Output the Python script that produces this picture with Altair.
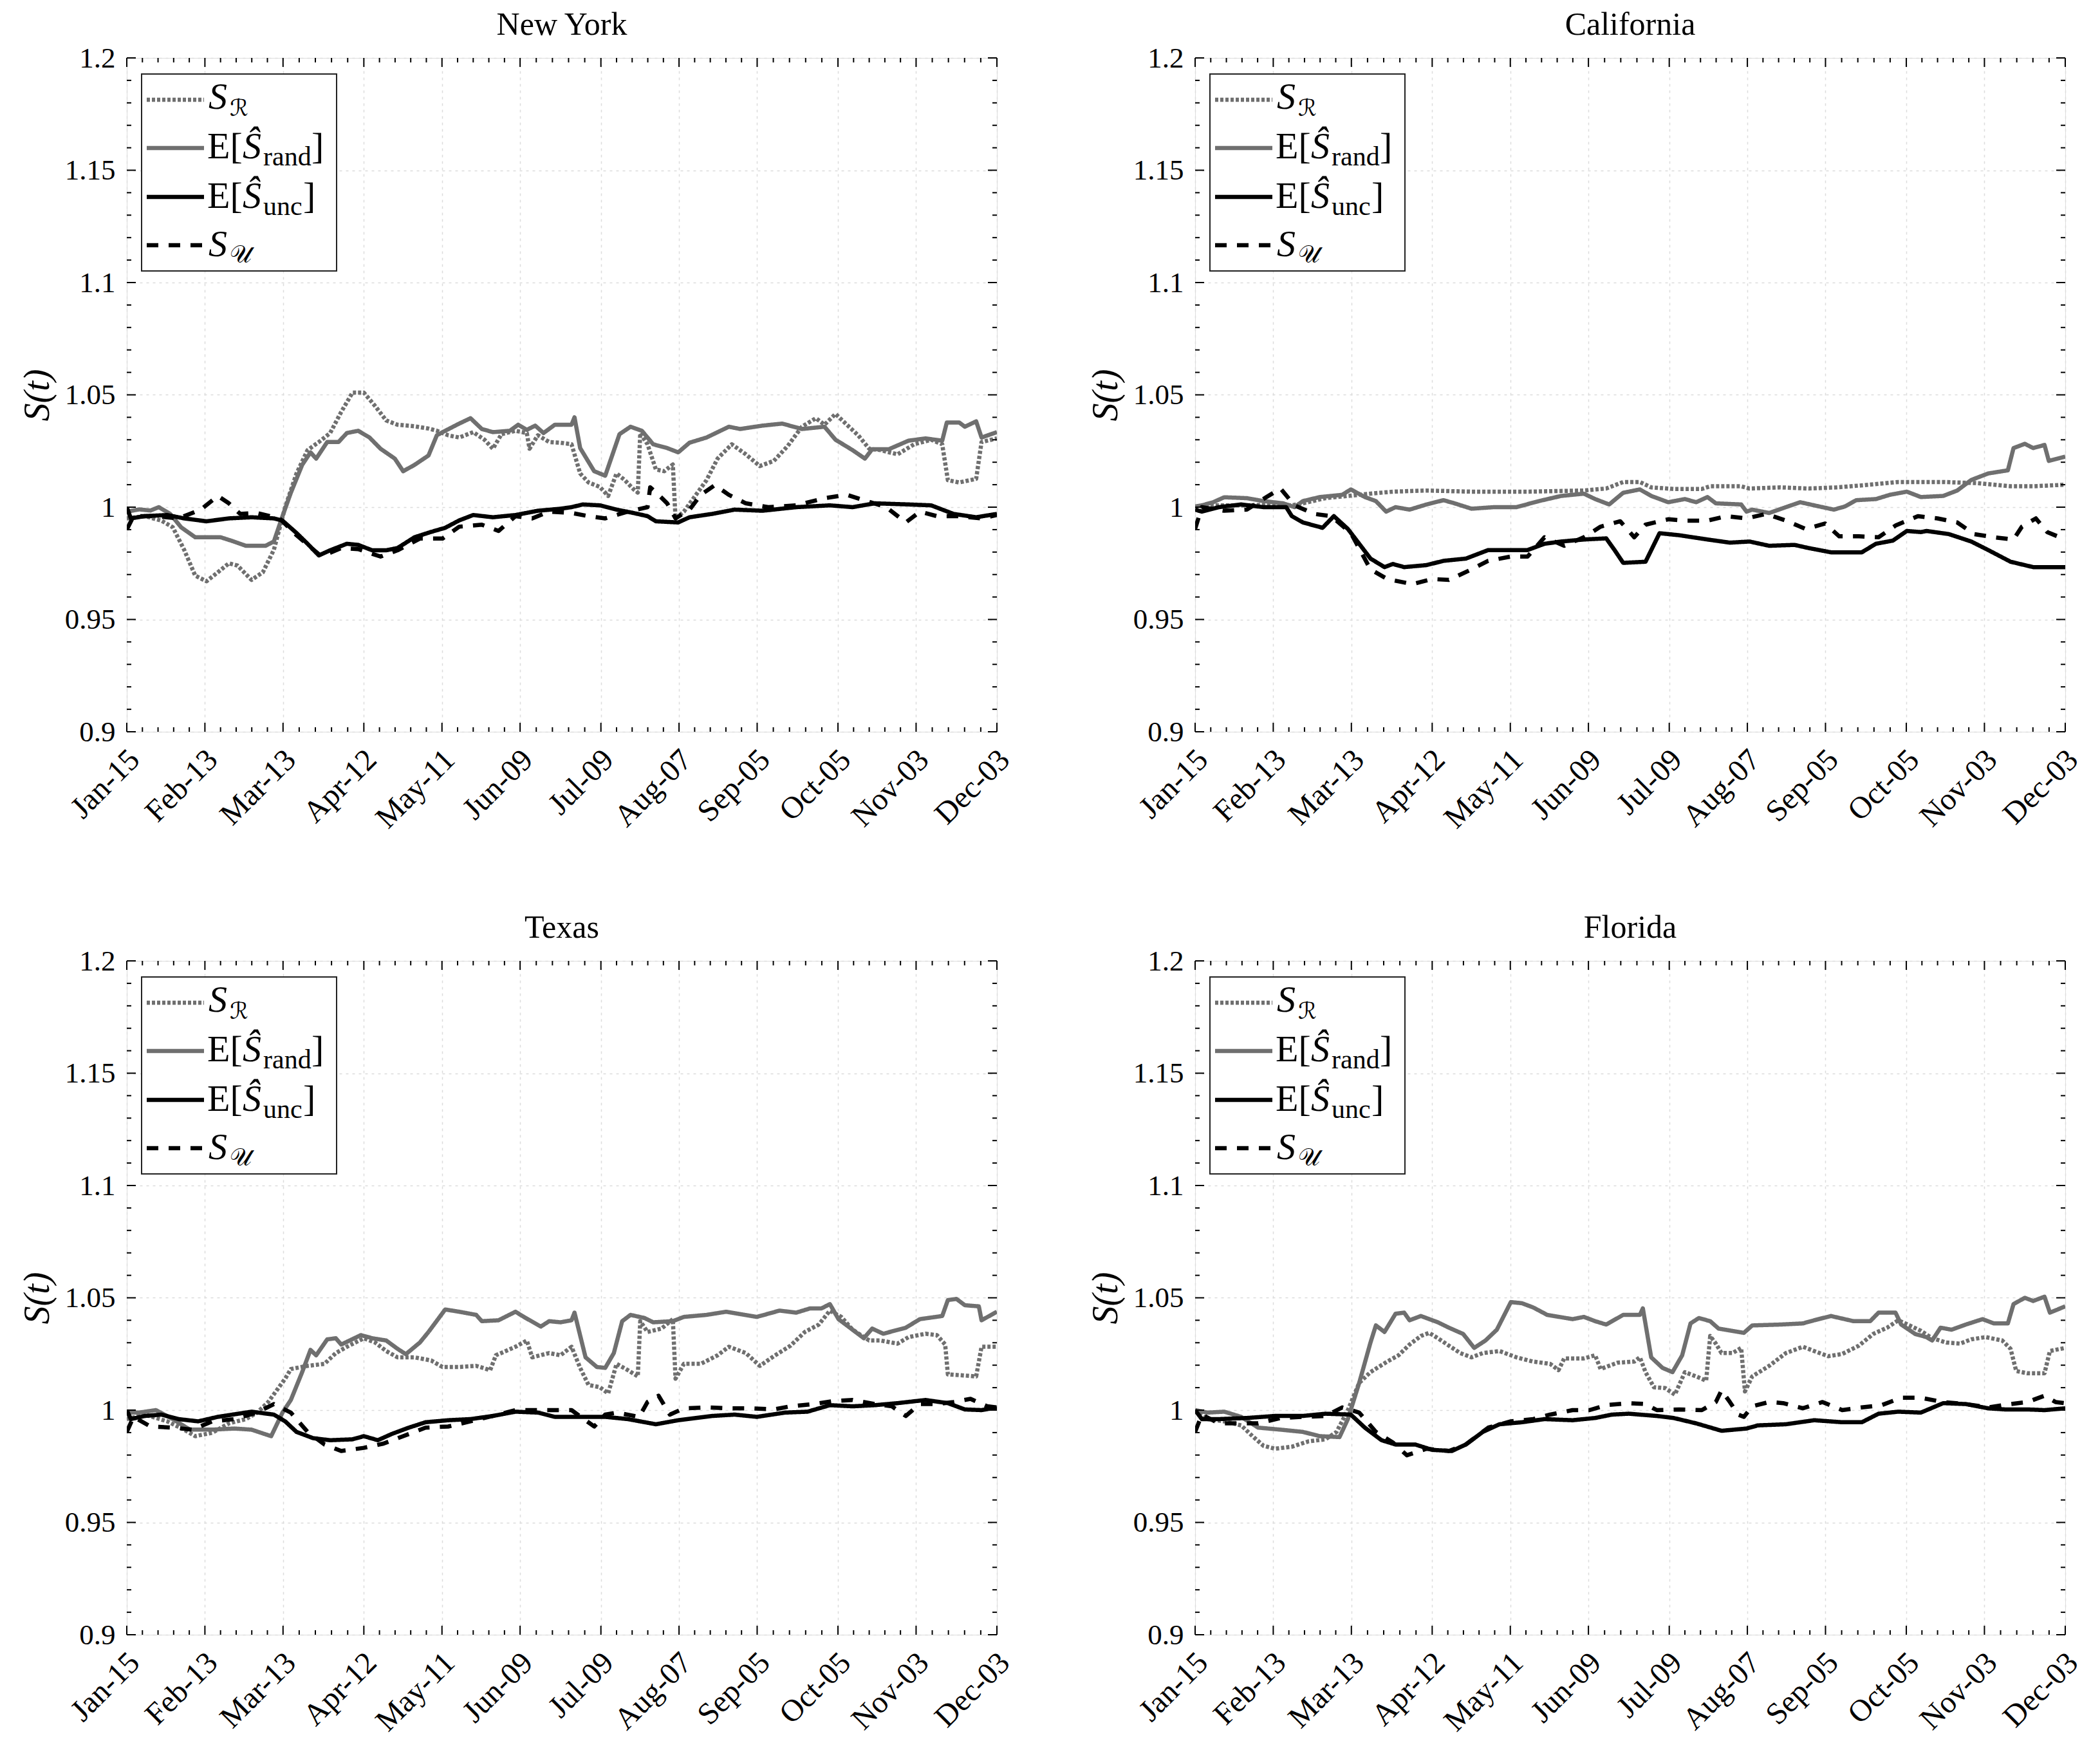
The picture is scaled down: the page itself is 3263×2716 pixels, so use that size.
import json
import altair as alt
import pandas as pd

alt.data_transformers.disable_max_rows()

FONT = "Liberation Serif"
W, H = 1352, 1047
GRAY = "#6f6f6f"

# ---------------- axis ticks ----------------
TICK_LABELS = ["Jan-15", "Feb-13", "Mar-13", "Apr-12", "May-11", "Jun-09",
               "Jul-09", "Aug-07", "Sep-05", "Oct-05", "Nov-03", "Dec-03"]
TICK_DAYS = [0, 29, 58, 88, 117, 146, 176, 205, 234, 264, 293, 323]
Y_TICKS = [0.9, 0.95, 1.0, 1.05, 1.1, 1.15, 1.2]
X_DOMAIN = [0, 323]
Y_DOMAIN = [0.9, 1.2]

SERIES = ["S_R", "E_rand", "E_unc", "S_U"]
COLORS = [GRAY, GRAY, "#000000", "#000000"]
DASHES = [[5, 3], [1, 0], [1, 0], [18, 16]]

# ---------------- data: (day since Jan-15, value) ----------------
NY_SR = [(0,0.995),(6.7,0.996),(12.9,0.994),(17.1,0.991),(21.3,0.981),(25.4,0.9695),(29.6,0.967),(33.8,0.971),(37.9,0.975),(41.1,0.974),(46.3,0.9676),(50.5,0.971),(54.6,0.981),(58.8,1.0),(63.0,1.015),(67.1,1.0254),(71.3,1.029),(75.5,1.033),(79.6,1.0424),(83.8,1.051),(88.0,1.051),(92.2,1.045),(96.3,1.0386),(100.5,1.0367),(106.8,1.036),(112.0,1.035),(115.1,1.034),(119.3,1.032),(123.4,1.031),(128.6,1.0334),(132.8,1.030),(135.9,1.026),(139.1,1.0325),(144.3,1.034),(148.5,1.033),(149.5,1.026),(152.6,1.032),(156.8,1.029),(161.0,1.0287),(165.1,1.028),(168.3,1.015),(171.4,1.011),(175.6,1.009),(178.7,1.005),(181.8,1.015),(184.9,1.012),(188.1,1.008),(189.7,1.0065),(190.6,1.033),(193.3,1.028),(196.4,1.0168),(199.5,1.016),(202.7,1.019),(203.7,0.995),(206.8,0.998),(211.0,1.005),(215.2,1.012),(219.3,1.0216),(224.6,1.028),(229.8,1.0235),(235.0,1.0183),(240.2,1.0206),(245.4,1.0273),(250.6,1.0358),(255.8,1.0396),(259.0,1.0367),(263.1,1.0415),(267.3,1.0367),(271.5,1.032),(275.6,1.026),(279.8,1.0254),(286.1,1.0235),(292.3,1.028),(298.6,1.030),(302.7,1.028),(304.8,1.012),(309.0,1.011),(315.3,1.0126),(317.3,1.029),(323.0,1.0306)]
NY_ERAND = [(0,0.998),(4.6,0.999),(8.8,0.9985),(11.9,1.0),(16.1,0.997),(20.2,0.991),(25.4,0.9866),(34.8,0.9866),(39.0,0.985),(44.2,0.9828),(51.5,0.9828),(54.6,0.9847),(57.8,0.996),(60.9,1.0064),(65.1,1.0188),(68.2,1.0244),(70.3,1.0216),(74.4,1.029),(78.6,1.029),(81.7,1.033),(85.9,1.034),(90.1,1.031),(94.2,1.026),(99.5,1.0216),(102.6,1.016),(106.8,1.0188),(112.0,1.023),(115.1,1.032),(118.2,1.034),(123.4,1.0372),(127.6,1.0396),(131.8,1.0348),(135.9,1.0334),(142.2,1.034),(145.3,1.0367),(148.5,1.0344),(151.6,1.0363),(154.7,1.033),(158.9,1.0367),(165.1,1.0367),(166.2,1.040),(168.3,1.0263),(173.5,1.016),(177.6,1.014),(182.9,1.0325),(187.0,1.0358),(191.2,1.034),(195.4,1.028),(200.6,1.0263),(204.7,1.0244),(208.9,1.0287),(215.2,1.031),(223.5,1.0358),(227.7,1.0348),(236.0,1.0363),(243.3,1.0372),(250.6,1.0348),(259.0,1.0358),(263.1,1.030),(269.4,1.0254),(274.0,1.0216),(276.7,1.0258),(282.9,1.0258),(290.2,1.0296),(296.5,1.0306),(302.7,1.0296),(304.4,1.0377),(309.0,1.0377),(311.1,1.0358),(315.3,1.0382),(317.3,1.031),(323.0,1.0334)]
NY_EUNC = [(0,1.0),(1.5,0.995),(6.7,0.996),(15.0,0.9965),(21.3,0.995),(29.6,0.9937),(37.9,0.995),(46.3,0.9955),(54.6,0.995),(57.8,0.994),(63.0,0.9885),(67.1,0.9837),(71.3,0.9785),(75.5,0.9808),(81.7,0.9837),(85.9,0.9832),(91.1,0.9808),(96.3,0.9808),(100.5,0.9818),(106.8,0.9866),(113.0,0.989),(118.2,0.9908),(123.4,0.9941),(128.6,0.9965),(135.9,0.9955),(144.3,0.9965),(152.6,0.9984),(161.0,0.9993),(165.1,1.0),(169.3,1.0012),(175.6,1.0008),(181.8,0.9989),(188.1,0.9974),(193.3,0.996),(196.4,0.9937),(204.7,0.9932),(208.9,0.9955),(217.3,0.997),(225.6,0.9989),(236.0,0.9984),(248.5,1.0),(261.0,1.0008),(269.4,1.0),(277.7,1.0017),(290.2,1.0012),(298.6,1.0008),(306.9,0.997),(315.3,0.9955),(323.0,0.997)]
NY_SU = [(0,0.990),(2.5,0.996),(10.8,0.996),(19.2,0.995),(27.5,0.9989),(33.8,1.005),(37.9,1.0017),(42.1,0.997),(48.4,0.9974),(56.7,0.995),(63.0,0.9875),(72.3,0.978),(79.6,0.9818),(85.9,0.9813),(94.2,0.978),(100.5,0.9808),(108.8,0.986),(117.2,0.986),(123.4,0.9913),(131.8,0.9922),(138.0,0.9894),(144.3,0.996),(150.5,0.995),(156.8,0.998),(165.1,0.9974),(171.4,0.996),(177.6,0.995),(186.0,0.998),(193.3,1.0),(194.3,1.0088),(197.4,1.0055),(200.6,1.0017),(203.7,0.995),(208.9,0.9989),(213.1,1.0055),(218.3,1.0098),(223.5,1.0055),(229.8,1.0017),(238.1,1.0),(248.5,1.0008),(259.0,1.004),(267.3,1.0055),(273.6,1.0031),(281.9,1.0),(289.2,0.9932),(294.4,0.998),(300.7,0.996),(309.0,0.996),(317.3,0.995),(323.0,0.9965)]

CA_SR = [(0,1.0),(6.7,1.0008),(19.2,1.0008),(29.6,1.0012),(35.9,1.0008),(40.0,1.0017),(48.4,1.004),(56.7,1.005),(65.1,1.006),(73.4,1.0069),(85.9,1.0074),(102.6,1.0069),(123.4,1.0069),(144.3,1.0074),(152.6,1.0083),(158.9,1.0112),(165.1,1.0112),(169.3,1.0088),(177.6,1.0081),(188.1,1.0081),(191.2,1.0093),(202.7,1.0093),(205.8,1.0083),(217.3,1.0088),(227.7,1.0083),(238.1,1.0088),(248.5,1.0098),(261.0,1.0112),(277.7,1.0112),(290.2,1.0107),(302.7,1.0093),(311.1,1.0093),(323.0,1.01)]
CA_ERAND = [(0,1.0003),(2.5,1.0008),(6.7,1.0022),(10.8,1.0044),(19.2,1.004),(25.4,1.0027),(32.7,1.0017),(36.9,1.0),(40.0,1.0027),(46.3,1.0045),(54.6,1.0055),(57.8,1.0079),(63.0,1.0045),(67.1,1.0027),(70.9,0.998),(74.4,1.0),(79.6,0.9989),(85.9,1.0012),(92.2,1.0031),(96.3,1.0017),(102.6,0.9993),(110.9,1.0),(119.3,1.0),(127.6,1.0027),(135.9,1.005),(144.3,1.006),(148.5,1.0036),(153.7,1.0012),(158.9,1.0064),(165.1,1.0079),(169.3,1.005),(175.6,1.0022),(181.8,1.0036),(186.0,1.0022),(190.2,1.0045),(193.3,1.0017),(202.7,1.0012),(204.7,0.998),(206.8,0.9989),(213.1,0.9974),(219.3,1.0),(224.6,1.0022),(229.8,1.0008),(237.1,0.9989),(241.2,1.0003),(245.4,1.0031),(252.7,1.0036),(257.9,1.0055),(264.2,1.0069),(269.4,1.0045),(277.7,1.005),(282.9,1.0074),(288.1,1.0121),(294.4,1.015),(301.7,1.0164),(303.8,1.0263),(308.0,1.0282),(311.1,1.0263),(315.3,1.0277),(316.9,1.0206),(323.0,1.0225)]
CA_EUNC = [(0,0.9989),(2.5,0.998),(8.8,1.0),(17.1,1.0012),(25.4,1.0),(33.8,1.0),(35.9,0.996),(40.0,0.9932),(47.3,0.9908),(51.5,0.996),(56.7,0.9903),(60.9,0.9837),(65.1,0.9771),(70.3,0.9733),(73.4,0.9747),(77.6,0.9733),(85.9,0.9742),(92.2,0.9761),(100.5,0.9771),(108.8,0.9809),(117.2,0.9809),(123.4,0.9809),(129.7,0.9837),(135.9,0.9847),(144.3,0.9856),(152.6,0.9861),(155.7,0.9809),(158.9,0.9752),(167.2,0.9757),(172.4,0.9884),(179.7,0.9875),(190.2,0.9856),(198.5,0.9842),(205.8,0.9847),(213.1,0.9828),(222.5,0.9832),(227.7,0.9818),(236.0,0.9799),(247.5,0.9799),(252.7,0.9837),(259.0,0.9851),(264.2,0.9894),(269.4,0.9889),(271.5,0.9894),(279.8,0.988),(288.1,0.9847),(294.4,0.9809),(302.7,0.9757),(311.1,0.9733),(323.0,0.9733)]
CA_SU = [(0,0.9903),(2.5,1.0),(10.8,0.9984),(19.2,0.9989),(26.5,1.0045),(31.7,1.0083),(36.9,1.0008),(44.2,0.997),(50.5,0.996),(57.8,0.9885),(65.1,0.9723),(71.3,0.968),(80.7,0.9657),(88.0,0.968),(94.2,0.9676),(102.6,0.9723),(108.8,0.9761),(117.2,0.978),(123.4,0.978),(129.7,0.9866),(137.0,0.9828),(144.3,0.9866),(150.5,0.9913),(157.8,0.9937),(163.0,0.9866),(167.2,0.9922),(175.6,0.9946),(181.8,0.994),(190.2,0.994),(197.4,0.996),(204.7,0.995),(212.0,0.997),(219.3,0.994),(226.6,0.9903),(233.9,0.9927),(239.1,0.987),(246.4,0.987),(253.7,0.9866),(260.0,0.9918),(268.3,0.996),(275.6,0.995),(282.9,0.9932),(289.2,0.988),(296.5,0.9866),(303.8,0.9856),(306.9,0.9913),(312.1,0.995),(316.3,0.9889),(323.0,0.9856)]

TX_SR = [(0,0.996),(6.7,0.998),(15.0,0.995),(21.3,0.9913),(25.4,0.9884),(31.7,0.9899),(37.9,0.9941),(44.2,0.996),(48.4,0.9989),(52.5,1.0036),(58.8,1.014),(60.9,1.0183),(67.1,1.0197),(73.4,1.0206),(77.6,1.0254),(81.7,1.0282),(88.0,1.032),(92.2,1.0301),(96.3,1.0263),(100.5,1.0235),(106.8,1.0235),(113.0,1.0221),(117.2,1.0192),(123.4,1.0192),(129.7,1.0197),(134.9,1.0178),(137.0,1.0244),(144.3,1.0282),(148.5,1.031),(150.5,1.0235),(156.8,1.0254),(161.0,1.0244),(165.1,1.0282),(168.3,1.0188),(171.4,1.0112),(175.6,1.0102),(178.7,1.0074),(181.8,1.0206),(186.0,1.0178),(189.7,1.015),(190.6,1.0396),(193.3,1.0348),(198.5,1.0363),(202.7,1.0405),(203.7,1.014),(206.8,1.0206),(213.1,1.0206),(219.3,1.0244),(223.5,1.0282),(229.8,1.0254),(235.0,1.0197),(240.2,1.024),(246.4,1.0287),(251.7,1.0348),(256.9,1.0381),(261.0,1.0443),(265.2,1.0415),(269.4,1.0358),(275.6,1.031),(279.8,1.031),(286.1,1.0296),(290.2,1.0325),(296.5,1.034),(300.7,1.0334),(303.8,1.0292),(304.8,1.0159),(311.1,1.0154),(315.3,1.015),(317.3,1.0282),(323.0,1.0282)]
TX_ERAND = [(0,0.9989),(4.6,0.9989),(10.8,1.0),(17.1,0.996),(23.4,0.9913),(31.7,0.9913),(40.0,0.9918),(46.3,0.9913),(53.6,0.9884),(57.8,0.9989),(60.9,1.0045),(65.1,1.0169),(68.2,1.0268),(70.3,1.0244),(74.4,1.0315),(77.6,1.032),(79.6,1.0292),(86.9,1.0334),(91.1,1.032),(96.3,1.031),(100.5,1.0273),(103.6,1.0249),(108.8,1.0301),(112.0,1.0348),(118.2,1.0448),(123.4,1.0438),(129.7,1.0424),(131.8,1.0396),(138.0,1.04),(144.3,1.0438),(147.4,1.0415),(153.7,1.0372),(156.8,1.0396),(161.0,1.0391),(165.1,1.04),(166.2,1.0434),(170.3,1.0235),(174.5,1.0192),(177.6,1.0188),(180.8,1.0254),(183.9,1.0396),(187.0,1.0424),(192.2,1.041),(195.4,1.0391),(202.7,1.0396),(206.8,1.0415),(215.2,1.0424),(222.5,1.0438),(233.9,1.0415),(242.3,1.0443),(248.5,1.0434),(253.7,1.0453),(257.9,1.0453),(261.0,1.0472),(264.2,1.0405),(269.4,1.0358),(273.6,1.032),(276.7,1.0363),(280.8,1.034),(289.2,1.0367),(294.4,1.0405),(302.7,1.0419),(304.8,1.049),(308.0,1.0495),(311.1,1.0467),(316.3,1.0462),(317.3,1.04),(323.0,1.0438)]
TX_EUNC = [(0,1.0),(1.5,0.996),(6.7,0.9974),(12.9,0.998),(19.2,0.996),(26.5,0.995),(33.8,0.997),(46.3,0.9993),(54.6,0.998),(58.8,0.995),(63.0,0.9903),(69.2,0.9875),(75.5,0.9866),(83.8,0.987),(88.0,0.9884),(93.2,0.9866),(98.4,0.9894),(104.7,0.9922),(110.9,0.9946),(119.3,0.9955),(127.6,0.996),(135.9,0.9974),(144.3,0.9993),(152.6,0.9989),(158.9,0.997),(169.3,0.997),(177.6,0.997),(186.0,0.996),(196.4,0.9937),(204.7,0.9955),(217.3,0.9974),(225.6,0.998),(233.9,0.997),(244.4,0.9989),(252.7,0.9993),(261.0,1.0022),(269.4,1.0017),(277.7,1.0022),(286.1,1.0031),(296.5,1.0045),(304.8,1.0031),(311.1,1.0003),(317.3,1.0),(323.0,1.0012)]
TX_SU = [(0,0.9903),(2.5,0.997),(8.8,0.9927),(17.1,0.9922),(24.4,0.9913),(31.7,0.995),(40.0,0.996),(48.4,0.9989),(54.6,1.0027),(60.9,0.9989),(67.1,0.9903),(73.4,0.9847),(79.6,0.9818),(88.0,0.9832),(95.3,0.9851),(102.6,0.9884),(110.9,0.9922),(119.3,0.9927),(127.6,0.995),(135.9,0.9974),(144.3,1.0),(156.8,1.0),(165.1,1.0),(173.5,0.9927),(177.6,0.998),(181.8,0.9989),(190.2,0.997),(193.3,1.0036),(197.4,1.0064),(201.6,0.998),(206.8,1.0008),(215.2,1.0012),(223.5,1.0008),(231.9,1.0008),(240.2,1.0003),(246.4,1.0017),(254.8,1.0027),(262.1,1.004),(269.4,1.0045),(277.7,1.0027),(284.0,1.0017),(289.2,0.9974),(294.4,1.0027),(300.7,1.0027),(306.9,1.0036),(313.2,1.005),(319.4,1.0017),(323.0,1.0012)]

FL_SR = [(0,1.0),(4.6,0.996),(10.8,0.995),(17.1,0.9932),(21.3,0.9884),(25.4,0.9841),(29.6,0.9828),(35.9,0.9837),(42.1,0.9861),(48.4,0.987),(52.5,0.9903),(56.7,1.0),(60.9,1.0121),(65.1,1.0169),(71.3,1.0216),(75.5,1.0244),(79.6,1.0292),(83.8,1.033),(86.9,1.0344),(90.1,1.032),(94.2,1.0287),(98.4,1.0254),(102.6,1.0235),(106.8,1.0254),(113.0,1.0263),(119.3,1.0235),(125.5,1.0216),(131.8,1.0206),(134.9,1.0178),(137.0,1.023),(144.3,1.023),(148.5,1.0244),(150.5,1.0183),(156.8,1.0211),(163.0,1.0216),(165.1,1.0235),(167.2,1.0169),(170.3,1.0102),(174.5,1.0098),(178.1,1.0069),(181.8,1.0169),(186.0,1.015),(189.7,1.0131),(191.2,1.033),(193.3,1.0296),(195.4,1.0254),(199.5,1.0254),(202.7,1.0277),(204.1,1.0083),(206.8,1.015),(213.1,1.0197),(219.3,1.0254),(225.6,1.0282),(229.8,1.0263),(235.0,1.024),(240.2,1.025),(246.4,1.0287),(251.7,1.0339),(256.9,1.0367),(261.0,1.04),(265.2,1.0377),(269.4,1.0353),(273.6,1.032),(278.8,1.0301),(284.0,1.0296),(288.1,1.0315),(293.4,1.0325),(299.6,1.031),(302.7,1.0273),(304.8,1.0174),(309.0,1.0164),(315.3,1.0164),(317.3,1.0263),(323.0,1.0277)]
FL_ERAND = [(0,1.0),(4.6,0.9989),(10.8,0.9993),(17.1,0.997),(23.4,0.9922),(31.7,0.9913),(40.0,0.9903),(46.3,0.9884),(53.6,0.988),(56.7,0.996),(60.9,1.0121),(65.1,1.0301),(67.1,1.0377),(70.3,1.0348),(74.4,1.0429),(77.6,1.0434),(79.6,1.04),(83.8,1.0419),(90.1,1.0391),(94.2,1.0367),(99.5,1.0339),(103.6,1.0277),(107.8,1.031),(112.0,1.0358),(117.2,1.0481),(121.3,1.0476),(125.5,1.0457),(130.7,1.0424),(140.1,1.0405),(144.3,1.0415),(148.5,1.0396),(152.6,1.0381),(158.9,1.0424),(165.1,1.0424),(166.2,1.0453),(169.3,1.0235),(173.5,1.0188),(177.2,1.0169),(180.8,1.0244),(183.9,1.0386),(187.0,1.041),(191.2,1.0396),(194.3,1.0363),(203.7,1.0344),(206.8,1.0377),(217.3,1.0381),(225.6,1.0386),(229.8,1.04),(236.0,1.0419),(244.4,1.0396),(250.6,1.0396),(253.7,1.0434),(260.0,1.0434),(262.1,1.0381),(267.3,1.0339),(271.5,1.0325),(273.6,1.031),(276.7,1.0367),(280.8,1.0358),(286.1,1.0381),(292.3,1.0405),(296.5,1.0386),(301.7,1.0386),(303.8,1.0472),(308.0,1.05),(311.1,1.0486),(315.3,1.0505),(317.3,1.0434),(323.0,1.0462)]
FL_EUNC = [(0,1.0),(2.5,0.996),(8.8,0.996),(19.2,0.9965),(29.6,0.9974),(40.0,0.9974),(48.4,0.9984),(57.8,0.998),(63.0,0.9922),(69.2,0.9866),(74.4,0.9847),(81.7,0.9847),(88.0,0.9823),(95.3,0.9818),(100.5,0.9847),(106.8,0.9903),(113.0,0.9937),(121.3,0.9946),(129.7,0.996),(140.1,0.9955),(148.5,0.9965),(154.7,0.998),(161.0,0.9984),(171.4,0.9974),(177.6,0.9965),(186.0,0.9941),(195.4,0.9908),(204.7,0.9918),(208.9,0.9932),(219.3,0.9937),(229.8,0.9955),(240.2,0.9946),(247.5,0.9946),(253.7,0.9984),(261.0,0.9993),(269.4,0.9989),(277.7,1.0031),(286.1,1.0027),(294.4,1.0008),(300.7,1.0003),(309.0,1.0003),(315.3,1.0),(323.0,1.0008)]
FL_SU = [(0,0.9903),(2.5,0.998),(8.8,0.9941),(15.0,0.9941),(23.4,0.9941),(31.7,0.9965),(40.0,0.997),(48.4,0.9974),(54.6,1.0012),(60.9,0.9989),(67.1,0.9903),(73.4,0.9856),(78.6,0.9799),(85.9,0.9828),(94.2,0.9818),(100.5,0.9847),(108.8,0.9922),(117.2,0.995),(125.5,0.996),(131.8,0.998),(140.1,1.0),(146.4,1.0),(152.6,1.0022),(161.0,1.0031),(167.2,1.0027),(171.4,1.0),(179.7,1.0003),(188.1,1.0),(193.3,1.0036),(195.4,1.0088),(198.5,1.0036),(201.6,0.998),(203.7,0.997),(206.8,1.0017),(213.1,1.0036),(218.3,1.0031),(225.6,1.0008),(232.9,1.0036),(240.2,1.0),(247.5,1.0012),(254.8,1.0022),(262.1,1.0055),(269.4,1.0055),(277.7,1.0036),(286.1,1.0027),(294.4,1.0012),(302.7,1.0027),(309.0,1.0036),(315.3,1.0064),(319.4,1.0036),(323.0,1.0031)]

PANELS = [
    ("New York", {"S_R": NY_SR, "E_rand": NY_ERAND, "E_unc": NY_EUNC, "S_U": NY_SU}),
    ("California", {"S_R": CA_SR, "E_rand": CA_ERAND, "E_unc": CA_EUNC, "S_U": CA_SU}),
    ("Texas", {"S_R": TX_SR, "E_rand": TX_ERAND, "E_unc": TX_EUNC, "S_U": TX_SU}),
    ("Florida", {"S_R": FL_SR, "E_rand": FL_ERAND, "E_unc": FL_EUNC, "S_U": FL_SU}),
]

# minor tick positions (axis decoration only)
Y_MINOR = [round(0.9 + 0.01 * i, 2) for i in range(31) if i % 5]
X_MINOR = []
for a, b in zip(TICK_DAYS[:-1], TICK_DAYS[1:]):
    X_MINOR += [a + (b - a) * k / 5 for k in range(1, 5)]

ONE = pd.DataFrame({"k": [0]})

label_expr = "%s[indexof(%s, datum.value)]" % (json.dumps(TICK_LABELS), json.dumps(TICK_DAYS))

GRID = dict(grid=True, gridColor="#dcdcdc", gridDash=[4, 6], gridWidth=1.5)
XAXIS = alt.Axis(values=TICK_DAYS, labelExpr=label_expr, labelAngle=-45, labelAlign="right",
                 labelBaseline="middle", labelFont=FONT, labelFontSize=48, labelColor="black",
                 labelPadding=36, labelOffset=12, labelOverlap=False, labelFlush=False, ticks=False,
                 domain=False, title=None, **GRID)
YAXIS = alt.Axis(values=Y_TICKS, format=".3~g", labelFont=FONT, labelFontSize=45, labelColor="black",
                 labelPadding=18, ticks=False, domain=False, title="S(t)", titleFont=FONT,
                 titleFontSize=56, titleFontStyle="italic", titleFontWeight="normal",
                 titleColor="black", titlePadding=13, **GRID)

MAJ, MIN = 14, 7
LW = 6.5


def make_panel(name, series):
    xs = alt.Scale(domain=X_DOMAIN, nice=False, zero=False)
    ys = alt.Scale(domain=Y_DOMAIN, nice=False, zero=False)
    rows = []
    for s in SERIES:
        for d, v in series[s]:
            rows.append({"day": d, "val": v, "series": s})
    df = pd.DataFrame(rows)
    layers = []
    layers.append(
        alt.Chart(df).mark_line(strokeWidth=LW, clip=True, strokeJoin="round").encode(
            x=alt.X("day:Q", scale=xs, axis=XAXIS),
            y=alt.Y("val:Q", scale=ys, axis=YAXIS),
            color=alt.Color("series:N", scale=alt.Scale(domain=SERIES, range=COLORS), legend=None),
            strokeDash=alt.StrokeDash("series:N", scale=alt.Scale(domain=SERIES, range=DASHES), legend=None),
            detail="series:N",
        )
    )
    # inward ticks on all four sides
    for vals, L in ((Y_TICKS, MAJ), (Y_MINOR, MIN)):
        tdf = pd.DataFrame({"v": vals})
        for x1, x2 in ((0, L), (W, W - L)):
            layers.append(alt.Chart(tdf).mark_rule(color="black", strokeWidth=2).encode(
                y=alt.Y("v:Q", scale=ys, axis=YAXIS), x=alt.value(x1), x2=alt.value(x2)))
    for vals, L in ((TICK_DAYS, MAJ), (X_MINOR, MIN)):
        tdf = pd.DataFrame({"v": vals})
        for y1, y2 in ((H, H - L), (0, L)):
            layers.append(alt.Chart(tdf).mark_rule(color="black", strokeWidth=2).encode(
                x=alt.X("v:Q", scale=xs, axis=XAXIS), y=alt.value(y1), y2=alt.value(y2)))
    # legend box
    layers.append(alt.Chart(ONE).mark_rect(fill="white", stroke="#222222", strokeWidth=2).encode(
        x=alt.value(23), x2=alt.value(326), y=alt.value(25), y2=alt.value(331)))
    row_y = [65, 140, 216, 291]
    for i, s in enumerate(SERIES):
        layers.append(alt.Chart(ONE).mark_rule(color=COLORS[i], strokeDash=DASHES[i], strokeWidth=LW).encode(
            x=alt.value(31), x2=alt.value(120), y=alt.value(row_y[i])))

    def txt(t, x, y, size, style="normal", font=FONT):
        return alt.Chart(ONE).mark_text(text=t, font=font, fontSize=size, fontStyle=style,
                                        align="left", baseline="alphabetic", color="black").encode(
            x=alt.value(x), y=alt.value(y))

    layers += [
        txt("S", 127, 79, 58, "italic"),
        txt("\u211B", 160, 90, 36, "normal", "DejaVu Sans"),
        txt("E[", 125, 156, 58),
        txt("\u015C", 180, 156, 58, "italic"),
        txt("rand", 212, 167, 42),
        txt("]", 287, 156, 58),
        txt("E[", 125, 233, 58),
        txt("\u015C", 180, 233, 58, "italic"),
        txt("unc", 212, 244, 42),
        txt("]", 274, 233, 58),
        txt("S", 127, 308, 58, "italic"),
        txt("\U0001D4B0", 160, 318, 38, "normal", "DejaVu Sans"),
    ]
    return alt.layer(*layers).properties(
        width=W, height=H,
        title=alt.TitleParams(text=name, font=FONT, fontSize=50, fontWeight="normal", color="black", offset=4),
    )


panels = [make_panel(n, s) for n, s in PANELS]
chart = alt.concat(*panels, columns=2, spacing={"row": 356, "column": 308}, bounds="flush").configure_view(
    stroke="black", strokeWidth=2
).configure(padding={"left": 21, "top": 5, "right": 5, "bottom": 5}, background="white")

chart.save("out.html", embed_options={"renderer": "svg", "actions": False})
